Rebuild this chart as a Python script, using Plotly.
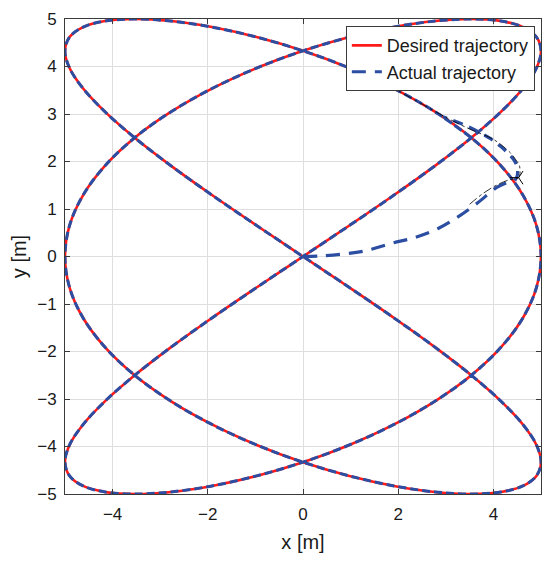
import plotly.graph_objects as go

# Desired trajectory
desired_x = [0, 0.975, 1.913, 2.778, 3.536, 4.157, 4.619, 4.904, 5, 4.904, 4.619, 4.157, 3.536, 2.778, 1.913, 0.975,
             0, -0.975, -1.913, -2.778, -3.536, -4.157, -4.619, -4.904, -5, -4.904, -4.619, -4.157, -3.536, -2.778, -1.913, -0.975,
             0, 0.975, 1.913, 2.778, 3.536, 4.157, 4.619, 4.904, 5, 4.904, 4.619, 4.157, 3.536, 2.778, 1.913, 0.975,
             0, -0.975, -1.913, -2.778, -3.536, -4.157, -4.619, -4.904, -5, -4.904, -4.619, -4.157, -3.536, -2.778, -1.913, -0.975,
             0, 0.975, 1.913, 2.778, 3.536, 4.157, 4.619, 4.904, 5, 4.904, 4.619, 4.157, 3.536, 2.778, 1.913, 0.975,
             0, -0.975, -1.913, -2.778, -3.536, -4.157, -4.619, -4.904, -5, -4.904, -4.619, -4.157, -3.536, -2.778, -1.913, -0.975,
             0]
desired_y = [0, 0.653, 1.294, 1.913, 2.5, 3.044, 3.536, 3.967, 4.33, 4.619, 4.83, 4.957, 5, 4.957, 4.83, 4.619,
             4.33, 3.967, 3.536, 3.044, 2.5, 1.913, 1.294, 0.653, 0, -0.653, -1.294, -1.913, -2.5, -3.044, -3.536, -3.967,
             -4.33, -4.619, -4.83, -4.957, -5, -4.957, -4.83, -4.619, -4.33, -3.967, -3.536, -3.044, -2.5, -1.913, -1.294, -0.653,
             0, 0.653, 1.294, 1.913, 2.5, 3.044, 3.536, 3.967, 4.33, 4.619, 4.83, 4.957, 5, 4.957, 4.83, 4.619,
             4.33, 3.967, 3.536, 3.044, 2.5, 1.913, 1.294, 0.653, 0, -0.653, -1.294, -1.913, -2.5, -3.044, -3.536, -3.967,
             -4.33, -4.619, -4.83, -4.957, -5, -4.957, -4.83, -4.619, -4.33, -3.967, -3.536, -3.044, -2.5, -1.913, -1.294, -0.653,
             0]

# Actual trajectory: initial transient from the origin to the corner
actual_start_x = [0, 0.35, 0.83, 1.31, 1.87, 2.35, 2.84, 3.28, 3.67, 4.08, 4.30, 4.45]
actual_start_y = [0, 0.01, 0.05, 0.12, 0.28, 0.40, 0.59, 0.85, 1.13, 1.46, 1.56, 1.60]
# from the corner back onto the desired path
actual_turn_x = [4.45, 4.50, 4.50, 4.44, 4.34, 4.15, 3.94, 3.73, 3.39, 3.11, 2.94]
actual_turn_y = [1.60, 1.70, 1.88, 2.02, 2.14, 2.32, 2.48, 2.60, 2.77, 2.88, 2.94]
# afterwards the actual trajectory follows the desired path (indices into the desired arrays)
loop_order = list(range(68, -1, -1)) + list(range(95, 66, -1))

# thin black path near the transient
black_x = [3.50, 3.80, 4.10, 4.35, 4.53, 4.55, 4.46, 4.36, 4.01, 3.53, 3.04, 2.50, 1.913]
black_y = [1.10, 1.34, 1.52, 1.62, 1.66, 1.90, 2.05, 2.18, 2.46, 2.67, 2.91, 3.21, 3.536]
marker_x = [4.53]
marker_y = [1.66]

RED = "#ff1a1a"
BLUE = "#2b4ea2"
FONT = "Liberation Sans, Arial, sans-serif"
TXT = "#1a1a1a"

fig = go.Figure()
fig.add_trace(go.Scatter(x=desired_x, y=desired_y, mode="lines", name="Desired trajectory",
                         line=dict(color=RED, width=2.6, shape="spline")))
fig.add_trace(go.Scatter(x=[desired_x[k] for k in loop_order], y=[desired_y[k] for k in loop_order],
                         mode="lines", showlegend=False, legendgroup="act",
                         line=dict(color=BLUE, width=3, shape="spline", dash="8px,4px")))
fig.add_trace(go.Scatter(x=actual_start_x, y=actual_start_y, mode="lines", name="Actual trajectory",
                         legendgroup="act",
                         line=dict(color=BLUE, width=3.2, shape="spline", dash="14px,9px")))
fig.add_trace(go.Scatter(x=actual_turn_x, y=actual_turn_y, mode="lines", showlegend=False,
                         legendgroup="act",
                         line=dict(color=BLUE, width=3.2, shape="spline", dash="10px,7px")))
fig.add_trace(go.Scatter(x=black_x, y=black_y, mode="lines", showlegend=False,
                         line=dict(color="black", width=0.8, shape="spline", dash="dashdot")))
fig.add_trace(go.Scatter(x=marker_x, y=marker_y, mode="markers", showlegend=False,
                         marker=dict(symbol="y-left-open", size=11, color="black",
                                     line=dict(color="black", width=1))))

axis_common = dict(
    range=[-5, 5], showgrid=True, gridcolor="#dedede", gridwidth=1,
    showline=True, linecolor="#3a3a3a", linewidth=1, mirror="ticks",
    ticks="inside", ticklen=5, tickcolor="#3a3a3a", zeroline=False, automargin=False,
    ticklabeloverflow="allow",
    tickfont=dict(family=FONT, size=17, color=TXT),
)

fig.update_layout(
    width=534, height=545,
    margin=dict(l=57, r=1, t=11, b=59, autoexpand=False),
    paper_bgcolor="white", plot_bgcolor="white",
    font=dict(family=FONT, color=TXT),
    xaxis=dict(**axis_common, tickvals=[-4, -2, 0, 2, 4], ticklabelstandoff=5,
               title=dict(text="x [m]", font=dict(family=FONT, size=20, color=TXT), standoff=12)),
    yaxis=dict(**axis_common, tickvals=[-5, -4, -3, -2, -1, 0, 1, 2, 3, 4, 5], ticklabelstandoff=4,
               title=dict(text="y [m]", font=dict(family=FONT, size=20, color=TXT), standoff=7)),
    legend=dict(x=0.590, y=0.985, xanchor="left", yanchor="top",
                bgcolor="white", bordercolor="#3a3a3a", borderwidth=1,
                font=dict(family=FONT, size=18, color=TXT),
                itemwidth=30, tracegroupgap=0),
    showlegend=True,
)

fig.write_html("out.html")
